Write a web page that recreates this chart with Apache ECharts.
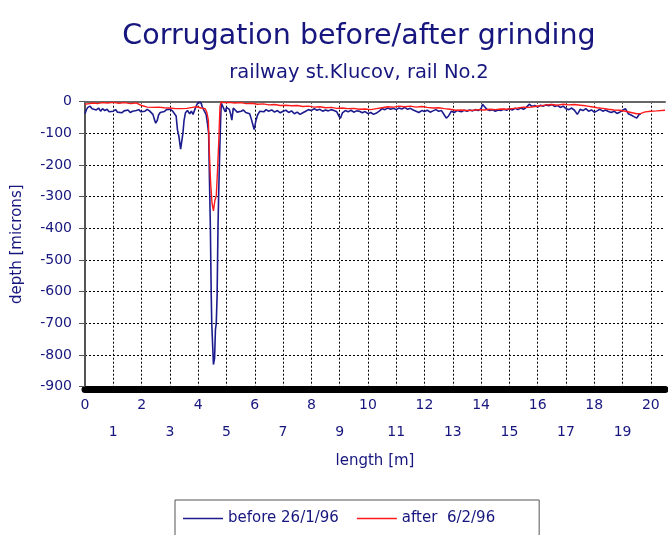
<!DOCTYPE html>
<html>
<head>
<meta charset="utf-8">
<script src="https://cdn.jsdelivr.net/npm/echarts@6/dist/echarts.min.js"></script>
<style>html,body{margin:0;padding:0;background:#fff;overflow:hidden}#c{width:668px;height:535px}</style>
</head>
<body>
<div id="c"></div>
<script>
const titleText = 'Corrugation before/after grinding';
const subtitleText = 'railway st.Klucov, rail No.2';
const seriesNames = ['before 26/1/96', 'after  6/2/96'];

const beforeX = [0.00,0.05,0.10,0.18,0.25,0.32,0.40,0.48,0.55,0.62,0.70,0.78,0.85,0.92,1.00,1.08,1.15,1.22,1.30,1.38,1.45,1.52,1.60,1.68,1.75,1.82,1.90,1.98,2.05,2.12,2.20,2.28,2.35,2.40,2.45,2.50,2.55,2.60,2.66,2.72,2.80,2.88,2.95,3.02,3.10,3.16,3.22,3.27,3.32,3.38,3.42,3.46,3.50,3.55,3.62,3.70,3.76,3.82,3.88,3.95,4.00,4.05,4.10,4.15,4.22,4.28,4.33,4.37,4.40,4.43,4.46,4.48,4.51,4.54,4.58,4.61,4.64,4.67,4.70,4.72,4.76,4.80,4.82,4.87,4.92,4.96,5.00,5.05,5.10,5.15,5.19,5.24,5.30,5.38,5.45,5.52,5.60,5.68,5.75,5.82,5.88,5.94,5.98,6.04,6.10,6.18,6.25,6.32,6.40,6.48,6.5,6.6,6.7,6.8,6.9,7.0,7.1,7.2,7.3,7.4,7.5,7.6,7.7,7.8,7.9,8.0,8.1,8.2,8.3,8.4,8.5,8.6,8.7,8.8,8.9,8.97,9.03,9.1,9.2,9.3,9.4,9.5,9.6,9.7,9.8,9.9,10.0,10.1,10.2,10.3,10.4,10.5,10.6,10.7,10.8,10.9,11.0,11.1,11.2,11.3,11.4,11.5,11.6,11.7,11.8,11.9,12.0,12.1,12.2,12.3,12.4,12.5,12.6,12.7,12.77,12.85,12.95,13.05,13.15,13.3,13.4,13.5,13.6,13.7,13.8,13.9,14.0,14.05,14.1,14.2,14.3,14.4,14.5,14.6,14.7,14.8,14.9,15.0,15.1,15.2,15.3,15.4,15.5,15.6,15.7,15.8,15.9,16.0,16.1,16.2,16.3,16.4,16.5,16.6,16.7,16.8,16.9,17.0,17.1,17.2,17.3,17.4,17.45,17.5,17.6,17.7,17.8,17.9,18.0,18.1,18.2,18.3,18.4,18.5,18.6,18.7,18.8,18.9,19.0,19.1,19.2,19.3,19.4,19.5,19.55,19.6,19.65];
const beforeY = [-38,-25,-18,-14,-22,-17,-26,-20,-30,-22,-28,-24,-32,-27,-30,-25,-33,-28,-35,-29,-31,-26,-34,-30,-36,-28,-25,-32,-27,-30,-24,-29,-33,-40,-55,-68,-60,-42,-34,-28,-31,-25,-29,-24,-30,-28,-45,-90,-110,-150,-145,-100,-60,-35,-28,-38,-30,-40,-25,-10,-2,-5,-3,-18,-22,-40,-70,-100,-250,-390,-600,-700,-700,-830,-810,-720,-700,-610,-400,-310,-160,-40,-5,0,-25,-32,-18,-13,-24,-40,-58,-20,-25,-33,-28,-30,-26,-34,-30,-38,-55,-75,-88,-60,-42,-30,-26,-32,-25,-30,-30,-26,-33,-28,-35,-30,-27,-34,-29,-38,-33,-40,-35,-30,-25,-28,-22,-27,-24,-30,-26,-29,-25,-28,-32,-45,-52,-35,-28,-32,-27,-33,-29,-30,-35,-31,-38,-34,-40,-36,-30,-22,-25,-20,-24,-21,-25,-20,-23,-18,-24,-21,-26,-30,-34,-28,-31,-27,-33,-29,-25,-30,-28,-42,-52,-45,-30,-34,-28,-32,-27,-30,-26,-29,-25,-28,-22,-8,-12,-24,-28,-25,-30,-26,-28,-24,-27,-22,-26,-21,-25,-20,-24,-18,-8,-15,-12,-17,-11,-14,-10,-13,-9,-15,-12,-18,-14,-22,-25,-20,-27,-40,-33,-24,-28,-22,-30,-26,-33,-29,-24,-30,-26,-31,-34,-30,-37,-33,-27,-22,-38,-42,-47,-52,-45,-38,-40];

const afterX = [0.00,0.15,0.30,0.45,0.60,0.80,1.00,1.20,1.40,1.60,1.80,2.00,2.20,2.40,2.60,2.80,3.00,3.20,3.40,3.60,3.80,3.95,4.10,4.25,4.31,4.36,4.40,4.44,4.49,4.54,4.59,4.64,4.68,4.73,4.77,4.81,4.90,5.10,5.30,5.50,5.70,5.90,6.10,6.30,6.50,6.70,6.90,7.10,7.30,7.50,7.70,7.90,8.10,8.30,8.50,8.70,8.90,9.10,9.30,9.50,9.70,9.90,10.10,10.30,10.50,10.70,10.90,11.10,11.30,11.50,11.70,11.90,12.10,12.30,12.50,12.70,12.90,13.10,13.30,13.50,13.70,13.90,14.10,14.30,14.50,14.70,14.90,15.10,15.30,15.50,15.70,15.90,16.10,16.30,16.50,16.70,16.90,17.10,17.30,17.50,17.70,17.90,18.10,18.30,18.50,18.70,18.90,19.10,19.30,19.50,19.65,19.80,20.00,20.20,20.50];
const afterY = [-8,-6,-4,-6,-3,-4,-2,-5,-3,-6,-4,-12,-17,-18,-17,-19,-20,-22,-22,-21,-18,-16,-20,-22,-35,-58,-170,-255,-320,-345,-312,-298,-225,-120,-16,-1,-3,-2,-4,-3,-6,-5,-8,-7,-10,-9,-12,-11,-13,-12,-15,-14,-17,-16,-19,-18,-21,-20,-22,-21,-24,-23,-25,-22,-19,-16,-17,-14,-16,-14,-17,-15,-18,-20,-19,-22,-24,-27,-26,-28,-27,-25,-26,-24,-25,-23,-24,-22,-20,-17,-18,-15,-13,-10,-9,-11,-8,-10,-9,-11,-13,-16,-19,-21,-24,-26,-27,-30,-34,-38,-37,-32,-30,-29,-27];

const navy = '#16167e';
const font = 'DejaVu Sans';
const xMax = 20.5;

const zip = (xs, ys) => xs.map((x, i) => [x, ys[i]]);

const chart = echarts.init(document.getElementById('c'), null, {renderer: 'canvas'});
chart.setOption({
  animation: false,
  backgroundColor: '#ffffff',
  textStyle: {fontFamily: font},
  title: [
    {text: titleText, left: 354, top: 17, textAlign: 'center',
     textStyle: {fontFamily: font, fontSize: 28.5, fontWeight: 'normal', color: navy}},
    {text: subtitleText, left: 354, top: 58, textAlign: 'center',
     textStyle: {fontFamily: font, fontSize: 19.5, fontWeight: 'normal', color: navy}}
  ],
  legend: {
    data: seriesNames,
    left: 175, top: 500,
    orient: 'horizontal',
    icon: 'rect', itemWidth: 40, itemHeight: 1.5, itemGap: 18,
    padding: [11, 44, 11, 8],
    borderColor: '#555', borderWidth: 1,
    textStyle: {fontFamily: font, fontSize: 15, color: navy}
  },
  grid: {left: 85, width: 589, top: 101.7, height: 285},
  xAxis: [{
    type: 'value', min: 0, max: xMax, interval: 1,
    offset: 3,
    name: 'length [m]', nameLocation: 'middle', nameGap: 64,
    nameTextStyle: {fontFamily: font, fontSize: 15, color: navy},
    axisLine: {show: true, onZero: false, lineStyle: {color: '#000', width: 7}},
    axisTick: {show: false},
    axisLabel: {
      margin: 2, fontFamily: font, fontSize: 14, color: navy, lineHeight: 27,
      showMaxLabel: true,
      formatter: v => {
        if (Math.abs(v - Math.round(v)) > 1e-6) return '';
        const n = Math.round(v);
        return n % 2 === 0 ? String(n) : '\n' + n;
      }
    },
    splitLine: {show: true, showMaxLine: false, lineStyle: {color: '#000', width: 1, type: [2, 2]}}
  }, {
    type: 'value', min: 0, max: xMax, position: 'top',
    axisLine: {show: true, onZero: false, lineStyle: {color: '#666', width: 2}},
    axisTick: {show: false}, axisLabel: {show: false}, splitLine: {show: false}
  }],
  yAxis: {
    type: 'value', min: -900, max: 0, interval: 100,
    name: 'depth [microns]', nameLocation: 'middle', nameGap: 60, nameRotate: 90,
    nameTextStyle: {fontFamily: font, fontSize: 15, color: navy},
    axisLine: {show: true, lineStyle: {color: '#555', width: 2}},
    axisTick: {show: true, length: 6, lineStyle: {color: '#555', width: 1}},
    axisLabel: {margin: 13, fontFamily: font, fontSize: 14, color: navy},
    splitLine: {show: true, lineStyle: {color: '#000', width: 1, type: [2, 2]}}
  },
  series: [
    {name: seriesNames[0], type: 'line', data: zip(beforeX, beforeY), showSymbol: false, symbol: 'none',
     lineStyle: {color: '#1c1c8e', width: 1.6}, itemStyle: {color: '#1c1c8e'}, clip: true},
    {name: seriesNames[1], type: 'line', data: zip(afterX, afterY), showSymbol: false, symbol: 'none',
     lineStyle: {color: '#ff1a1a', width: 1.4}, itemStyle: {color: '#ff1a1a'}, clip: true}
  ]
});
</script>
</body>
</html>
